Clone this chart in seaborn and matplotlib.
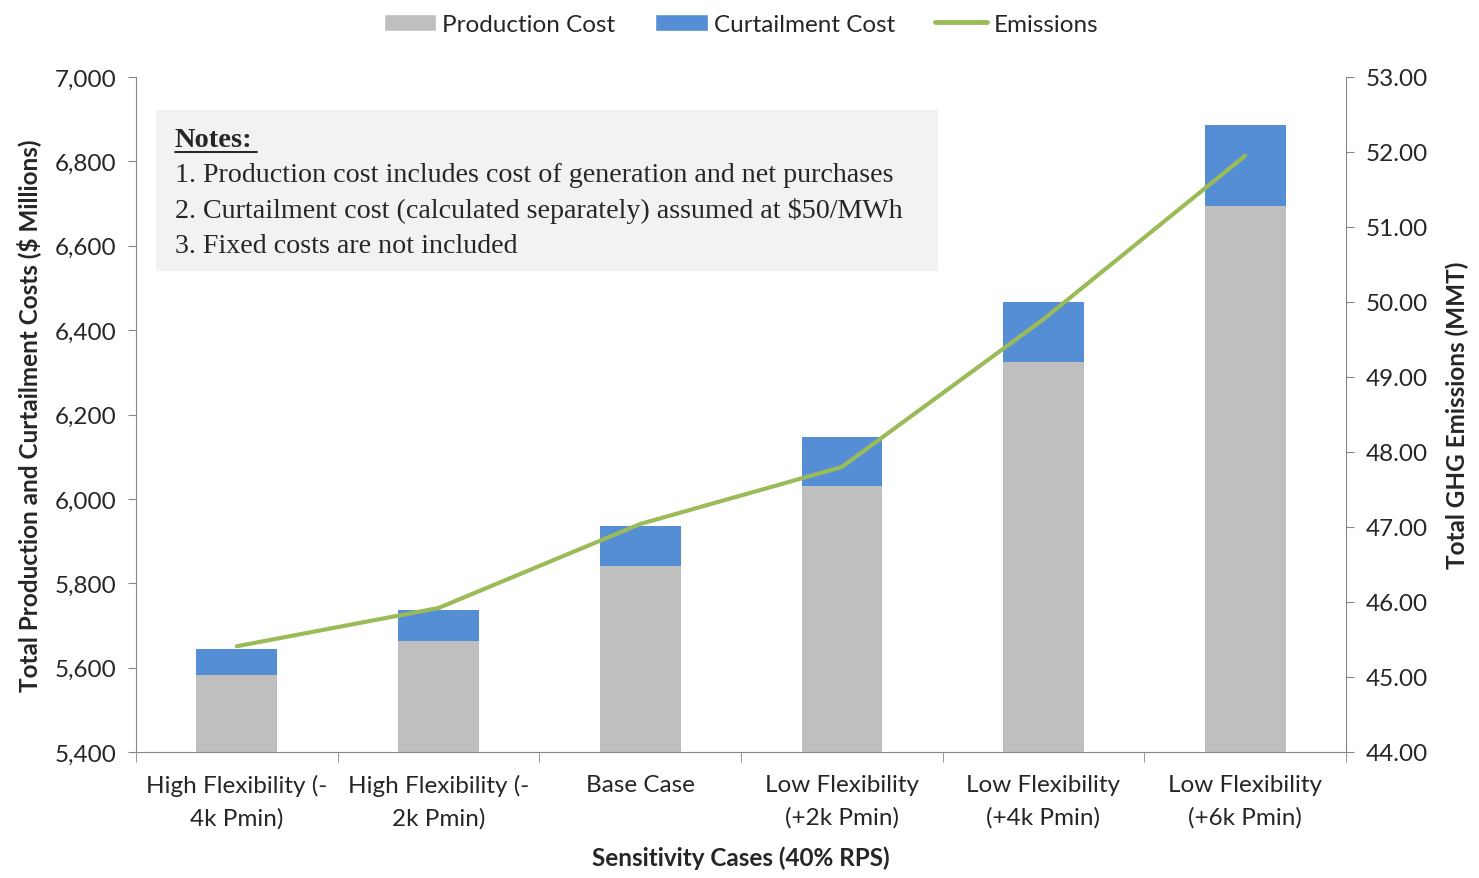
import numpy as np
import seaborn as sns
import matplotlib
matplotlib.use("Agg")
import matplotlib.pyplot as plt
from matplotlib.patches import Rectangle, Patch
from matplotlib.lines import Line2D
from matplotlib.ticker import FuncFormatter

# data
cases = ["High Flexibility (-\n4k Pmin)", "High Flexibility (-\n2k Pmin)", "Base Case",
         "Low Flexibility\n(+2k Pmin)", "Low Flexibility\n(+4k Pmin)", "Low Flexibility\n(+6k Pmin)"]
production = [5582, 5663, 5841, 6030, 6324, 6694]
curtailment = [62, 74, 95, 117, 143, 192]
emissions = [45.41, 45.92, 47.04, 47.80, 49.77, 51.95]

gray = "#bfbfbf"
blue = "#558ed5"
green = "#9bbb59"
axis_col = "#868686"

sns.set_style("white")
plt.rcParams['font.family'] = ['Lato', 'DejaVu Sans']
fs = 17.5

fig = plt.figure(figsize=(14.79, 8.79), dpi=100)
ax = fig.add_axes([136 / 1479, 1 - 753 / 879, 1210 / 1479, 675 / 879])

sns.barplot(x=cases, y=production, color=gray, width=0.4, ax=ax, saturation=1, linewidth=0)
sns.barplot(x=cases, y=curtailment, bottom=production, color=blue, width=0.4, ax=ax,
            saturation=1, linewidth=0)

ax.set_ylim(5400, 7000)
ax.set_xlim(-0.5, len(cases) - 0.5)
ax.set_yticks(np.arange(5400, 7001, 200))
ax.yaxis.set_major_formatter(FuncFormatter(lambda v, p: f"{v:,.0f}"))
ax.set_xticks(np.arange(-0.5, len(cases), 1), minor=True)
ax.tick_params(axis="x", which="major", length=0, labelsize=fs, pad=16)
ax.tick_params(axis="x", which="minor", length=7, color=axis_col, direction="out", bottom=True)
ax.tick_params(axis="y", length=6, color=axis_col, direction="out", left=True, labelsize=fs, pad=8)
for lbl in ax.get_xticklabels():
    lbl.set_linespacing(1.6)
for s in ["top", "right"]:
    ax.spines[s].set_visible(False)
for s in ["left", "bottom"]:
    ax.spines[s].set_color(axis_col)
ax.set_xlabel("Sensitivity Cases (40% RPS)", fontsize=fs, fontweight="bold", labelpad=12)
ax.set_ylabel("Total Production and Curtailment Costs ($ Millions)", fontsize=fs,
              fontweight="bold", labelpad=10)

ax2 = ax.twinx()
sns.lineplot(x=np.arange(len(cases)), y=emissions, ax=ax2, color=green, linewidth=3, sort=False)
ax2.set_ylim(44, 53)
ax2.set_yticks(np.arange(44, 53.1, 1))
ax2.yaxis.set_major_formatter(FuncFormatter(lambda v, p: f"{v:.2f}"))
ax2.tick_params(axis="y", length=6, color=axis_col, direction="out", right=True, labelsize=fs, pad=8)
for s in ["top", "left", "bottom"]:
    ax2.spines[s].set_visible(False)
ax2.spines["right"].set_color(axis_col)
ax2.set_ylabel("Total GHG Emissions (MMT)", fontsize=fs, fontweight="bold", labelpad=13)

# notes box
ax.add_patch(Rectangle((0.0165, 0.7126), 0.646, 0.2385, transform=ax.transAxes,
                       facecolor="#f2f2f2", edgecolor="none", zorder=0.5))
serif = ['Liberation Serif', 'DejaVu Serif']
ax.text(0.032, 0.908, "Notes:", transform=ax.transAxes, fontsize=20.5, family=serif,
        fontweight="bold", va="center", zorder=3)
ax.plot([0.032, 0.100], [0.889, 0.889], transform=ax.transAxes, color="black", lw=1.2, zorder=3)
notes = ["1. Production cost includes cost of generation and net purchases",
         "2. Curtailment cost (calculated separately) assumed at $50/MWh",
         "3. Fixed costs are not included"]
for i, t in enumerate(notes):
    ax.text(0.032, 0.855 - i * 0.052, t, transform=ax.transAxes, fontsize=20.2, family=serif,
            va="center", zorder=3)

handles = [Patch(facecolor=gray), Patch(facecolor=blue), Line2D([], [], color=green, lw=3.5)]
fig.legend(handles, ["Production Cost", "Curtailment Cost", "Emissions"], loc="center",
           bbox_to_anchor=(0.501, 0.971), ncol=3, frameon=False, fontsize=fs,
           handlelength=2.15, handletextpad=0.25, columnspacing=1.65)

fig.savefig("out.png", dpi=100)
